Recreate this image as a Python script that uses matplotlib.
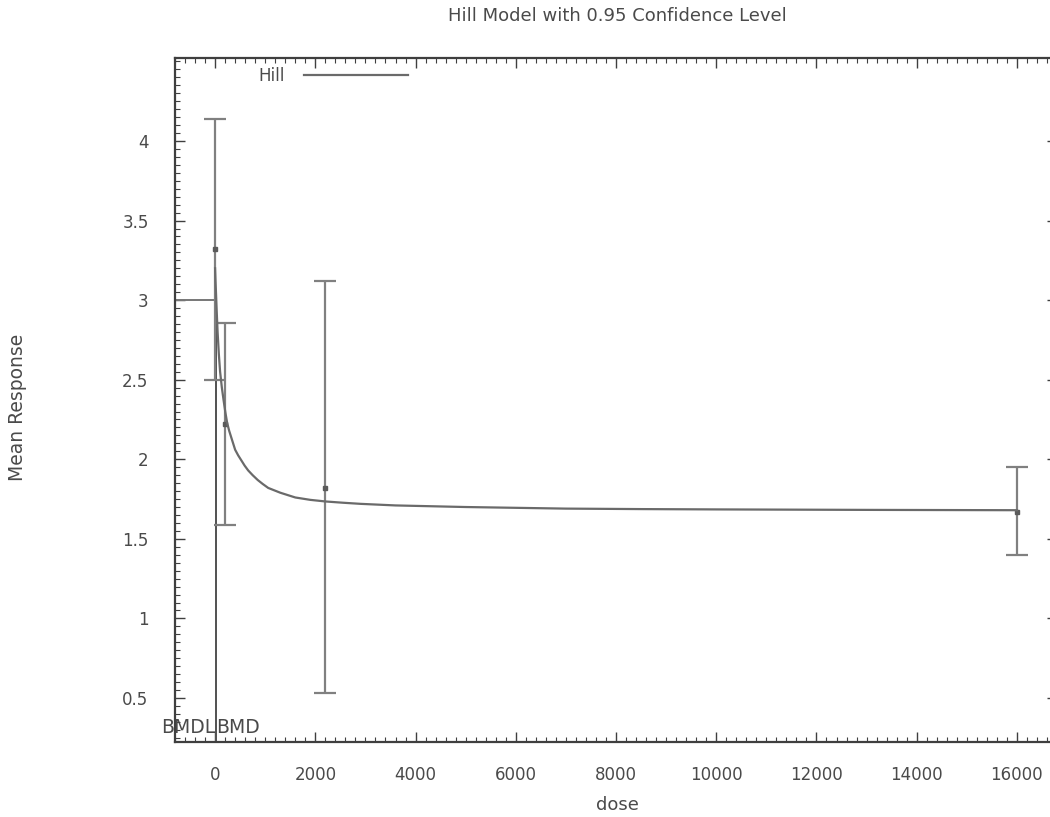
import matplotlib
matplotlib.use("Agg")
import matplotlib.pyplot as plt
from matplotlib.ticker import MultipleLocator

# ---- data ----
doses = [0, 200, 2200, 16000]
means = [3.32, 2.22, 1.82, 1.67]
lower = [2.50, 1.59, 0.53, 1.40]
upper = [4.14, 2.855, 3.12, 1.95]

curve_dose = [0, 10, 20, 35, 50, 75, 100, 135, 170, 205, 240, 280, 320, 360, 400,
              460, 520, 590, 660, 750, 850, 950, 1060, 1180, 1300, 1450, 1600,
              1900, 2200, 2550, 2900, 3250, 3600, 4300, 5000, 6000, 7000,
              8500, 10000, 13000, 16000]
curve_resp = [3.20, 3.11, 3.03, 2.91, 2.80, 2.66, 2.55, 2.45, 2.37, 2.295, 2.23,
              2.18, 2.14, 2.10, 2.06, 2.025, 1.995, 1.96, 1.93, 1.90, 1.87, 1.845,
              1.82, 1.805, 1.79, 1.775, 1.76, 1.745, 1.735, 1.727, 1.72, 1.715,
              1.71, 1.705, 1.70, 1.695, 1.69, 1.687, 1.685, 1.682, 1.68]

bmr_level = 3.0
bmd = 25
bmdl = 12

xticks = [0, 2000, 4000, 6000, 8000, 10000, 12000, 14000, 16000]
yticks = [0.5, 1, 1.5, 2, 2.5, 3, 3.5, 4]
xlim = (-800, 16800)
ylim = (0.2235, 4.5215)

title = "Hill Model with 0.95 Confidence Level"

# ---- figure ----
W, H = 1050, 817
fig = plt.figure(figsize=(W / 100, H / 100), dpi=100)
left, right, top, bottom = 175, 1057, 58, 742
ax = fig.add_axes([left / W, 1 - bottom / H, (right - left) / W, (bottom - top) / H])

frame_c = "#3f3f3f"
line_c = "#6a6a6a"
bar_c = "#808080"
text_c = "#4a4a4a"

yerr = [[m - l for m, l in zip(means, lower)], [u - m for u, m in zip(upper, means)]]
ax.errorbar(doses, means, yerr=yerr, fmt="s", ms=3.5, color="#5a5a5a",
            ecolor=bar_c, elinewidth=1.6, capsize=8, capthick=1.6, zorder=3)

hill_line, = ax.plot(curve_dose, curve_resp, color=line_c, lw=1.6, label="Hill", zorder=4)

# BMD / BMDL markers
ax.plot([xlim[0], bmd], [bmr_level, bmr_level], color="#777777", lw=1.4, zorder=2)
ax.plot([bmd, bmd], [ylim[0], bmr_level], color="#555555", lw=1.4, zorder=2)
ax.plot([bmdl, bmdl], [ylim[0], bmr_level], color="#555555", lw=1.4, zorder=2)
ax.text(bmdl, ylim[0] + 0.03, "BMDL", ha="right", va="bottom", fontsize=13.5, color=text_c)
ax.text(bmd, ylim[0] + 0.03, "BMD", ha="left", va="bottom", fontsize=13.5, color=text_c)

ax.set_xlim(*xlim)
ax.set_ylim(*ylim)
ax.set_xticks(xticks)
ax.set_xticklabels([str(t) for t in xticks])
ax.set_yticks(yticks)
ax.set_yticklabels([("%g" % t) for t in yticks])
ax.xaxis.set_minor_locator(MultipleLocator(200))
ax.yaxis.set_minor_locator(MultipleLocator(0.05))
ax.tick_params(which="both", direction="in", top=True, right=True, colors=frame_c)
ax.tick_params(which="major", length=7, width=1.0, labelsize=12, labelcolor=text_c)
ax.tick_params(which="minor", length=3.5, width=0.8)
ax.tick_params(axis="y", which="major", pad=19)
ax.tick_params(axis="x", which="major", pad=17)
for s in ax.spines.values():
    s.set_color(frame_c)
    s.set_linewidth(1.6)

leg = ax.legend(handles=[hill_line], loc="upper left",
                bbox_to_anchor=(258 / W, 1 - 67 / H), bbox_transform=fig.transFigure,
                frameon=False, markerfirst=False, fontsize=12,
                handlelength=6.2, handletextpad=1.2, borderpad=0, borderaxespad=0)
for t in leg.get_texts():
    t.set_color(text_c)

fig.text(617 / W, 1 - 16 / H, title, ha="center", va="center", fontsize=13, color=text_c)
fig.text(617 / W, 1 - 805 / H, "dose", ha="center", va="center", fontsize=13, color=text_c)
fig.text(18 / W, 1 - 407 / H, "Mean Response", ha="center", va="center",
         rotation=90, fontsize=13.5, color=text_c)

fig.savefig("out.png", dpi=100)
